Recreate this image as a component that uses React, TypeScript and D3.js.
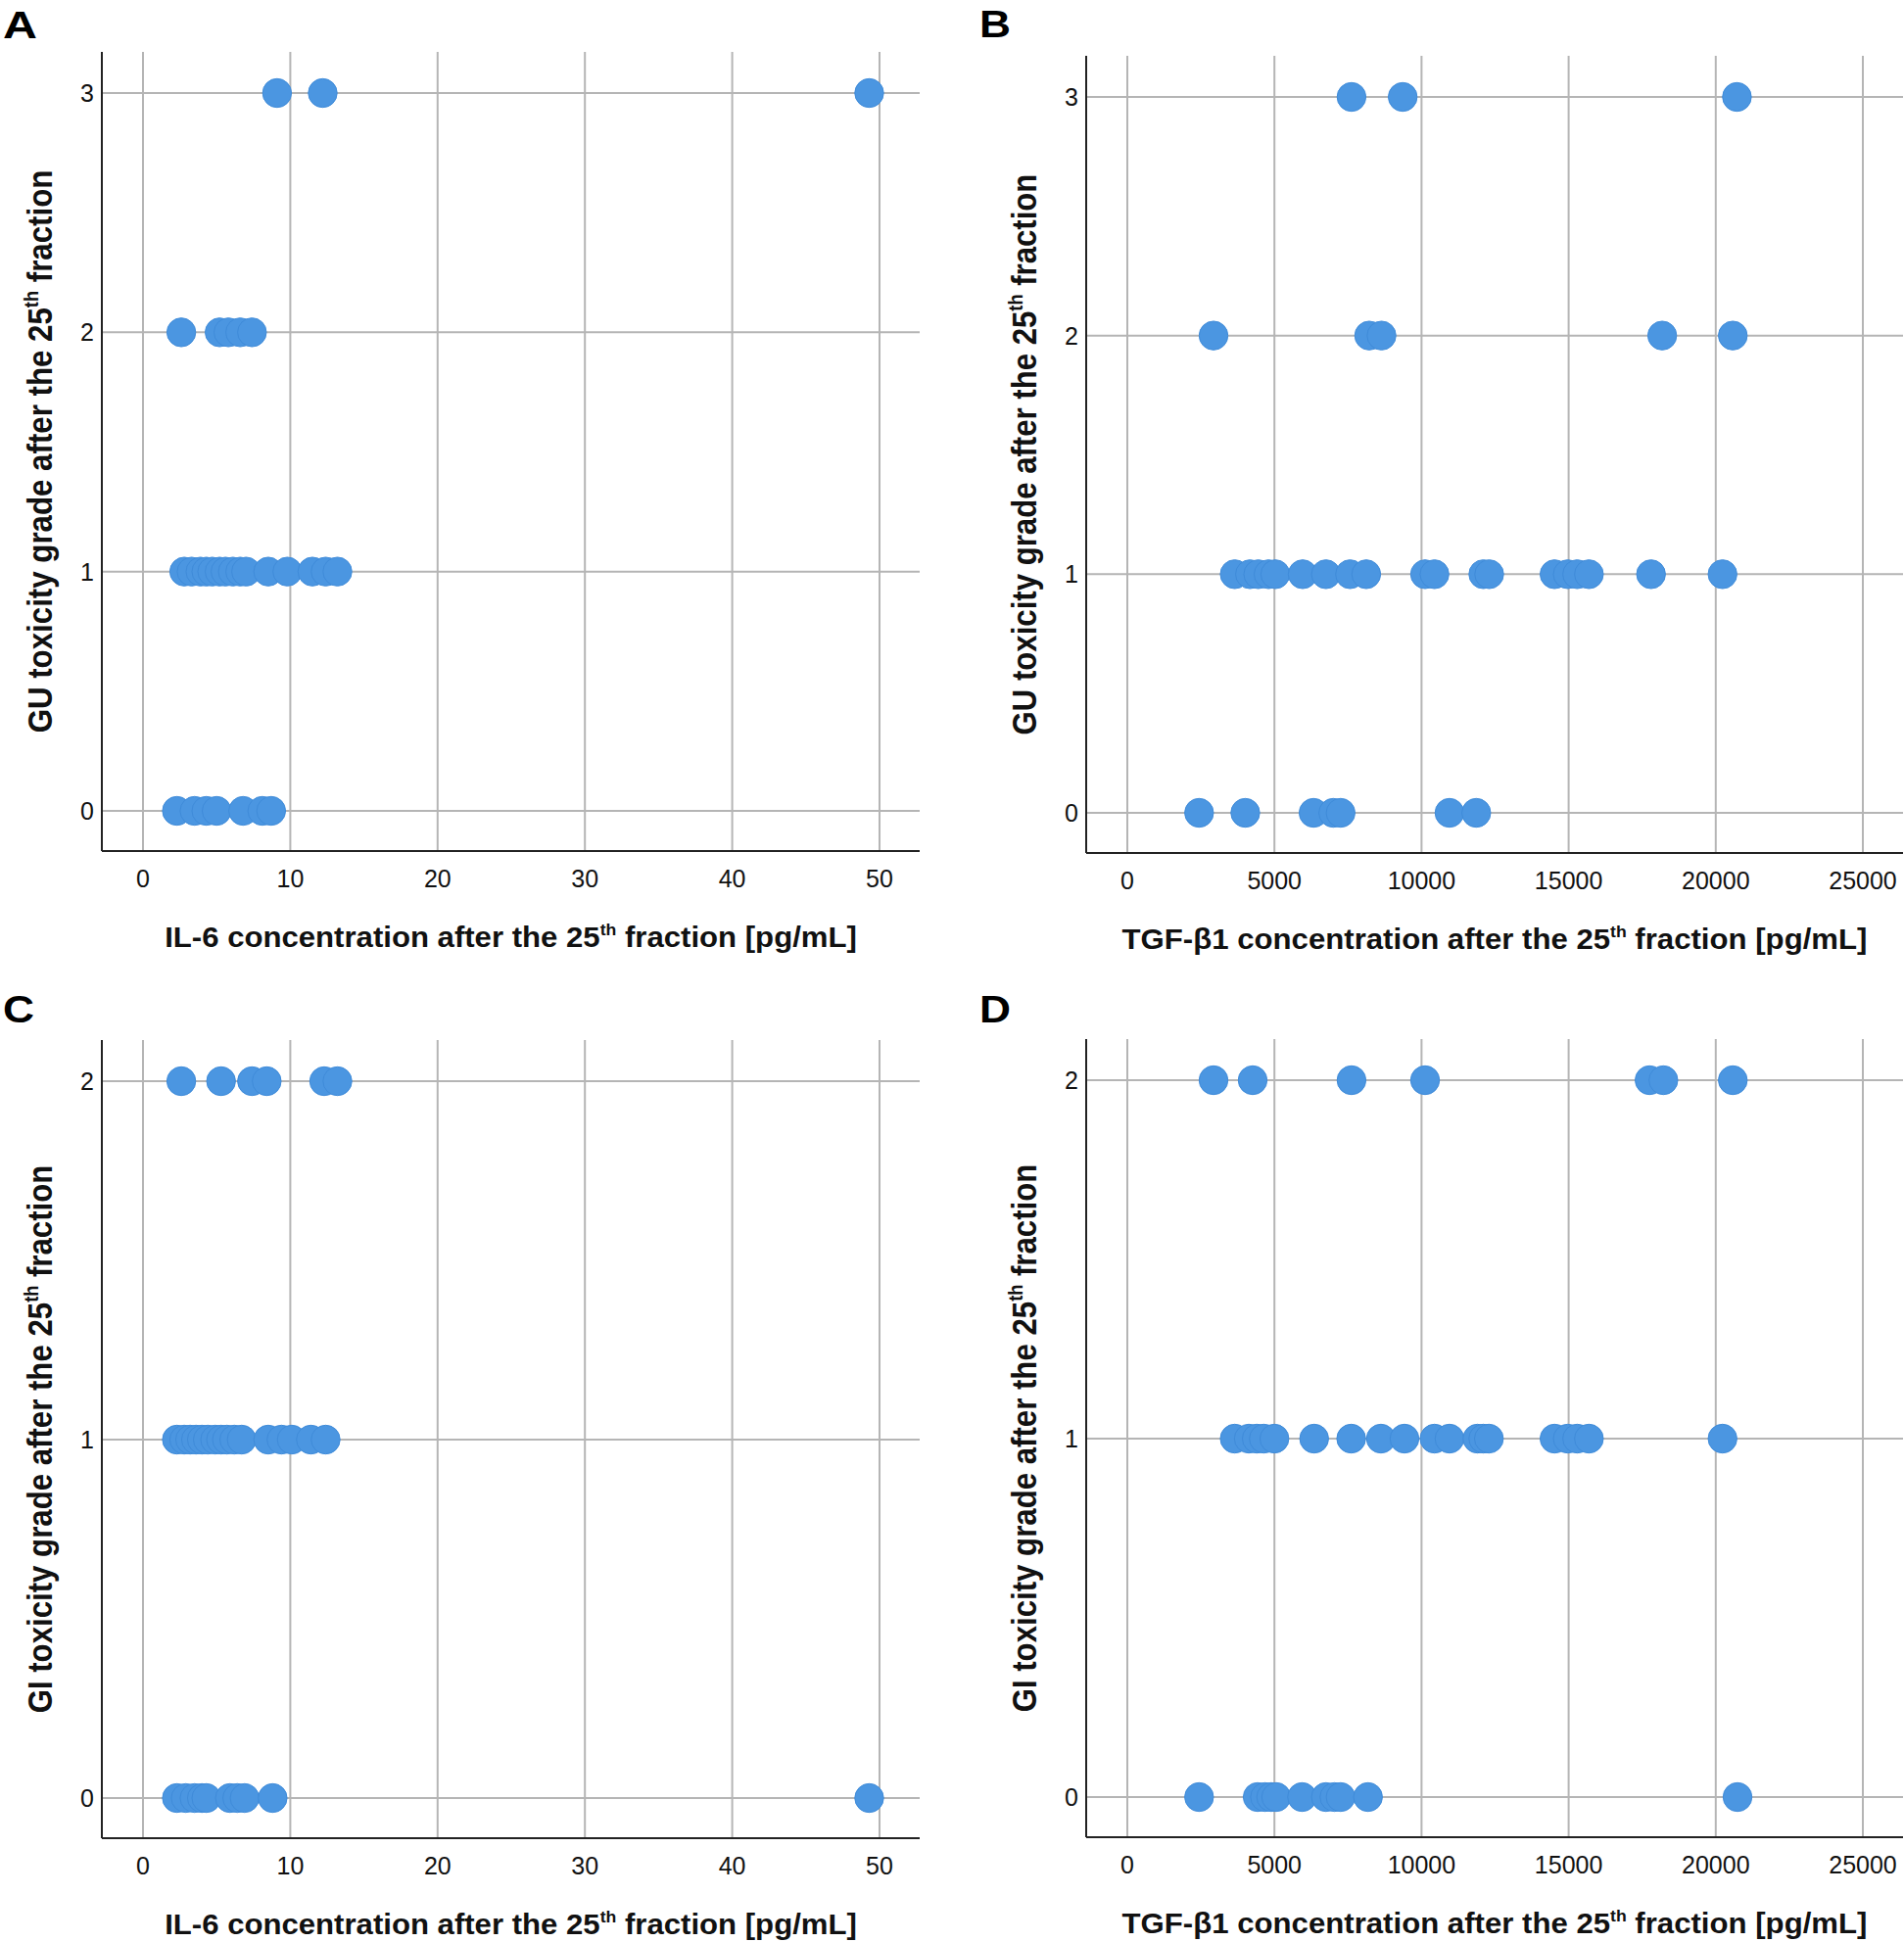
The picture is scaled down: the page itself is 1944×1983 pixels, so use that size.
import { useEffect, useRef } from 'react';
import * as d3 from 'd3';

// IL-6 after the 25th fraction [pg/mL], grouped by GU toxicity grade
const il6GuGrade0 = [2.3, 3.5, 4.3, 5.0, 6.8, 8.1, 8.7];
const il6GuGrade1 = [2.8, 3.3, 3.9, 4.3, 4.7, 5.2, 5.6, 6.1, 6.6, 7.0, 8.5, 9.8, 11.5, 12.4, 13.2];
const il6GuGrade2 = [2.6, 5.2, 5.8, 6.6, 7.4];
const il6GuGrade3 = [9.1, 12.2, 49.3];

// TGF-b1 after the 25th fraction [pg/mL], grouped by GU toxicity grade
const tgfGuGrade0 = [2440, 4010, 6330, 7000, 7250, 10950, 11860];
const tgfGuGrade1 = [3650, 4170, 4450, 4800, 5030, 5960, 6750, 7570, 8120, 10120, 10440, 12100, 12300, 14520, 14970, 15290, 15690, 17800, 20230];
const tgfGuGrade2 = [2930, 8220, 8640, 18180, 20580];
const tgfGuGrade3 = [7620, 9360, 20720];

// IL-6 by GI toxicity grade
const il6GiGrade0 = [2.3, 2.9, 3.5, 4.0, 4.3, 5.9, 6.4, 6.9, 8.8, 49.3];
const il6GiGrade1 = [2.3, 2.8, 3.2, 3.6, 4.0, 4.4, 4.9, 5.3, 5.7, 6.2, 6.7, 8.5, 9.4, 10.1, 11.4, 12.4];
const il6GiGrade2 = [2.6, 5.3, 7.4, 8.4, 12.3, 13.2];

// TGF-b1 by GI toxicity grade
const tgfGiGrade0 = [2440, 4430, 4680, 4890, 5060, 5940, 6750, 7040, 7250, 8180, 20740];
const tgfGiGrade1 = [3650, 4130, 4400, 4640, 5000, 6350, 7610, 8620, 9420, 10440, 10950, 11900, 12100, 12290, 14520, 14970, 15290, 15690, 20230];
const tgfGiGrade2 = [2930, 4260, 7620, 10120, 17750, 18220, 20580];

const il6Ticks = [0, 10, 20, 30, 40, 50];
const tgfTicks = [0, 5000, 10000, 15000, 20000, 25000];
const guGrades = [0, 1, 2, 3];
const giGrades = [0, 1, 2];

const il6Title = 'IL-6 concentration after the 25';
const tgfTitle = 'TGF-\u03b21 concentration after the 25';
const guTitle = 'GU toxicity grade after the 25';
const giTitle = 'GI toxicity grade after the 25';

const DOT = '#4b96e1';
const GRID = '#b5b5b5';
const FONT = '"Liberation Sans", Arial, sans-serif';

function fitX(sel, target) {
  const w = sel.node().getBBox().width;
  return w > 0 ? target / w : 1;
}

function drawPanel(svg, p) {
  const g = svg.append('g');
  const x = d3.scaleLinear()
    .domain([p.xTicks[0], p.xTicks[p.xTicks.length - 1]])
    .range([p.left + 42, p.right - 41]);
  const y = d3.scaleLinear()
    .domain([p.yTicks[0], p.yTicks[p.yTicks.length - 1]])
    .range([p.bottom - 41, p.top + 42]);

  // grid
  g.selectAll('.vgrid').data(p.xTicks).enter().append('line')
    .attr('x1', d => x(d)).attr('x2', d => x(d))
    .attr('y1', p.top).attr('y2', p.bottom)
    .attr('stroke', GRID).attr('stroke-width', 2);
  g.selectAll('.hgrid').data(p.yTicks).enter().append('line')
    .attr('x1', p.left).attr('x2', p.right)
    .attr('y1', d => y(d)).attr('y2', d => y(d))
    .attr('stroke', GRID).attr('stroke-width', 2);

  // points
  const pts = [];
  p.rows.forEach(([grade, vals]) => vals.forEach(v => pts.push({ grade, v })));
  g.selectAll('circle').data(pts).enter().append('circle')
    .attr('cx', d => x(d.v))
    .attr('cy', d => y(d.grade))
    .attr('r', 14.7)
    .attr('fill', DOT)
    .attr('stroke', '#3f8bd9')
    .attr('stroke-width', 1);

  // axes
  g.append('line').attr('x1', p.left).attr('x2', p.left).attr('y1', p.top).attr('y2', p.bottom)
    .attr('stroke', '#222').attr('stroke-width', 2);
  g.append('line').attr('x1', p.left).attr('x2', p.right).attr('y1', p.bottom).attr('y2', p.bottom)
    .attr('stroke', '#222').attr('stroke-width', 2);

  // tick labels
  g.selectAll('.xt').data(p.xTicks).enter().append('text')
    .attr('x', d => x(d)).attr('y', p.bottom + 37)
    .attr('text-anchor', 'middle')
    .style('font-family', FONT).style('font-size', '25px').attr('fill', '#111')
    .text(d => d);
  g.selectAll('.yt').data(p.yTicks).enter().append('text')
    .attr('x', p.left - 8).attr('y', d => y(d) + 9)
    .attr('text-anchor', 'end')
    .style('font-family', FONT).style('font-size', '25px').attr('fill', '#111')
    .text(d => d);

  // x title
  const xt = g.append('text')
    .attr('text-anchor', 'middle')
    .style('font-family', FONT).style('font-size', '30px').style('font-weight', 'bold')
    .attr('fill', '#111');
  xt.append('tspan').text(p.xTitle);
  xt.append('tspan').text('th').style('font-size', '17px').attr('dy', -12);
  xt.append('tspan').text(' fraction [pg/mL]').attr('dy', 12);
  const sx = fitX(xt, p.xTitleWidth);
  xt.attr('transform', `translate(${(p.left + p.right) / 2},${p.bottom + 98}) scale(${sx},1)`);

  // y title
  const yt = g.append('text')
    .attr('text-anchor', 'middle')
    .style('font-family', FONT).style('font-size', '36px').style('font-weight', 'bold')
    .attr('fill', '#111');
  yt.append('tspan').text(p.yTitle);
  yt.append('tspan').text('th').style('font-size', '21px').attr('dy', -14);
  yt.append('tspan').text(' fraction').attr('dy', 14);
  const sy = fitX(yt, p.yTitleLen);
  yt.attr('transform', `translate(${p.left - 51},${(p.top + p.bottom) / 2}) rotate(-90) scale(${sy},1)`);

  // panel letter
  const lt = g.append('text')
    .style('font-family', FONT).style('font-size', '38px').style('font-weight', 'bold')
    .attr('fill', '#000')
    .text(p.letter);
  const sl = fitX(lt, p.letterW);
  lt.attr('transform', `translate(${p.letterX},${p.letterY}) scale(${sl},1)`);
}

export default function App() {
  const ref = useRef(null);

  useEffect(() => {
    const svg = d3.select(ref.current);
    svg.selectAll('*').remove();

    const panels = [
      {
        letter: 'A', letterX: 3, letterY: 39, letterW: 35,
        left: 104, top: 53, right: 939, bottom: 869,
        xTicks: il6Ticks, yTicks: guGrades,
        rows: [[0, il6GuGrade0], [1, il6GuGrade1], [2, il6GuGrade2], [3, il6GuGrade3]],
        xTitle: il6Title, xTitleWidth: 707, yTitle: guTitle, yTitleLen: 575,
      },
      {
        letter: 'B', letterX: 1000, letterY: 38, letterW: 32,
        left: 1109, top: 57, right: 1943, bottom: 871,
        xTicks: tgfTicks, yTicks: guGrades,
        rows: [[0, tgfGuGrade0], [1, tgfGuGrade1], [2, tgfGuGrade2], [3, tgfGuGrade3]],
        xTitle: tgfTitle, xTitleWidth: 761, yTitle: guTitle, yTitleLen: 573,
      },
      {
        letter: 'C', letterX: 3, letterY: 1044, letterW: 32,
        left: 104, top: 1062, right: 939, bottom: 1877,
        xTicks: il6Ticks, yTicks: giGrades,
        rows: [[0, il6GiGrade0], [1, il6GiGrade1], [2, il6GiGrade2]],
        xTitle: il6Title, xTitleWidth: 707, yTitle: giTitle, yTitleLen: 560,
      },
      {
        letter: 'D', letterX: 1000, letterY: 1044, letterW: 32,
        left: 1109, top: 1061, right: 1943, bottom: 1876,
        xTicks: tgfTicks, yTicks: giGrades,
        rows: [[0, tgfGiGrade0], [1, tgfGiGrade1], [2, tgfGiGrade2]],
        xTitle: tgfTitle, xTitleWidth: 761, yTitle: giTitle, yTitleLen: 560,
      },
    ];

    panels.forEach(p => drawPanel(svg, p));
  }, []);

  return (
    <div style={{ position: 'absolute', left: 0, top: 0, background: '#fff' }}>
      <svg ref={ref} width={1944} height={1983} style={{ display: 'block' }} />
    </div>
  );
}
